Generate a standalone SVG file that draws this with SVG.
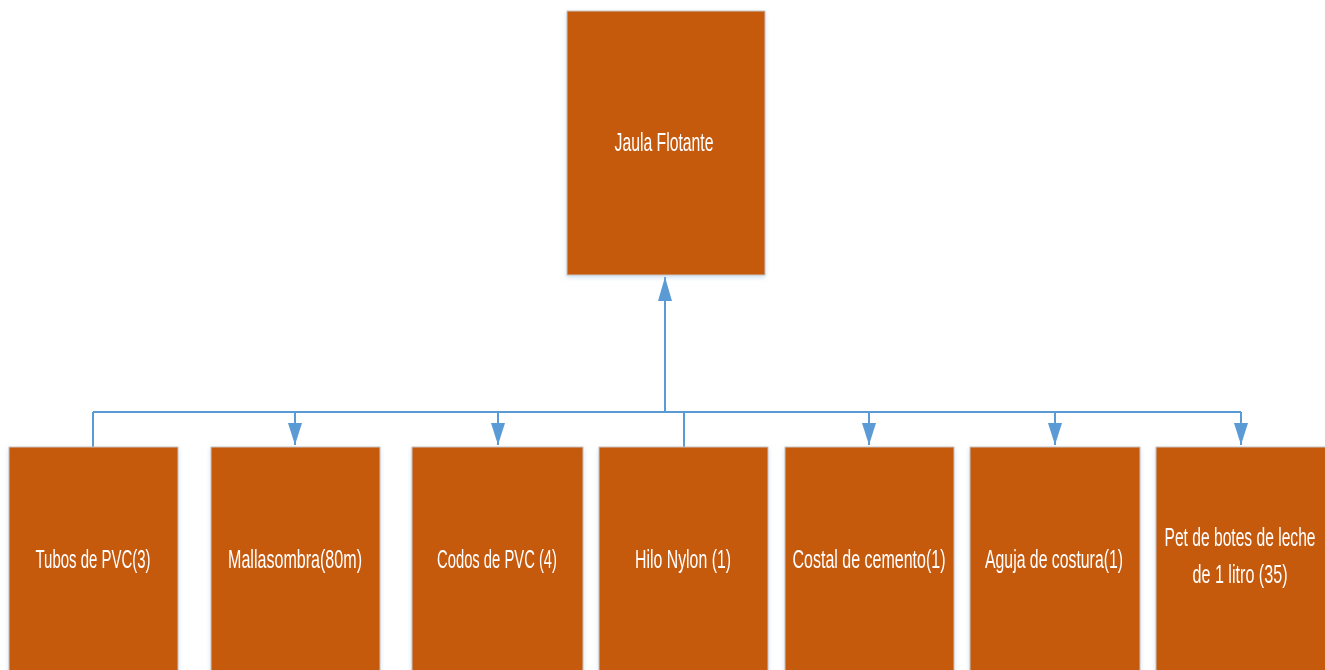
<svg xmlns="http://www.w3.org/2000/svg" width="1325" height="670" viewBox="0 0 1325 670">
<style>
.box{fill:#C55A11;stroke:#c9c3bf;stroke-width:1}
.lbl{font-family:"Liberation Sans",Arial,sans-serif;font-size:25px;fill:#ffffff;text-anchor:middle}
.con{fill:none;stroke:#5B9BD5;stroke-width:2}
</style>
<defs>
<marker id="ah" markerUnits="userSpaceOnUse" markerWidth="22" markerHeight="14" viewBox="0 0 22 14" refX="22" refY="7" orient="auto">
<path d="M0 0 L22 7 L0 14 Z" fill="#5B9BD5"/>
</marker>
<marker id="ahu" markerUnits="userSpaceOnUse" markerWidth="24" markerHeight="14" viewBox="0 0 24 14" refX="24" refY="7" orient="auto">
<path d="M0 0 L24 7 L0 14 Z" fill="#5B9BD5"/>
</marker>
<filter id="sh" x="-10%" y="-10%" width="120%" height="120%">
<feDropShadow dx="0" dy="2" stdDeviation="2" flood-color="#9dc3e6" flood-opacity="0.5"/>
</filter>
</defs>
<g id="connectors">
<path class="con" d="M93 412 H1241"/>
<path class="con" d="M665 412 V277" marker-end="url(#ahu)"/>
<path class="con" d="M93 412 V447"/>
<path class="con" d="M684 412 V447"/>
<path class="con" d="M295 412 V445" marker-end="url(#ah)"/>
<path class="con" d="M498 412 V445" marker-end="url(#ah)"/>
<path class="con" d="M869 412 V445" marker-end="url(#ah)"/>
<path class="con" d="M1055 412 V445" marker-end="url(#ah)"/>
<path class="con" d="M1241 412 V445" marker-end="url(#ah)"/>
</g>
<g id="jaula" filter="url(#sh)">
<rect class="box" x="567" y="11" width="198" height="264"/>
<text class="lbl" transform="translate(664 151) scale(0.62 1)" textLength="159.7" lengthAdjust="spacingAndGlyphs">Jaula Flotante</text>
</g>
<g id="tubos" filter="url(#sh)">
<rect class="box" x="9" y="447" width="169" height="240"/>
<text class="lbl" transform="translate(93 568) scale(0.62 1)" textLength="185.5" lengthAdjust="spacingAndGlyphs">Tubos de PVC(3)</text>
</g>
<g id="malla" filter="url(#sh)">
<rect class="box" x="211" y="447" width="169" height="240"/>
<text class="lbl" transform="translate(295 568) scale(0.62 1)" textLength="216.1" lengthAdjust="spacingAndGlyphs">Mallasombra(80m)</text>
</g>
<g id="codos" filter="url(#sh)">
<rect class="box" x="412" y="447" width="171" height="240"/>
<text class="lbl" transform="translate(497 568) scale(0.62 1)" textLength="193.5" lengthAdjust="spacingAndGlyphs">Codos de PVC (4)</text>
</g>
<g id="hilo" filter="url(#sh)">
<rect class="box" x="599" y="447" width="169" height="240"/>
<text class="lbl" transform="translate(683 568) scale(0.62 1)" textLength="154.8" lengthAdjust="spacingAndGlyphs">Hilo Nylon (1)</text>
</g>
<g id="costal" filter="url(#sh)">
<rect class="box" x="785" y="447" width="169" height="240"/>
<text class="lbl" transform="translate(869 568) scale(0.62 1)" textLength="246.8" lengthAdjust="spacingAndGlyphs">Costal de cemento(1)</text>
</g>
<g id="aguja" filter="url(#sh)">
<rect class="box" x="970" y="447" width="170" height="240"/>
<text class="lbl" transform="translate(1054 568) scale(0.62 1)" textLength="222.6" lengthAdjust="spacingAndGlyphs">Aguja de costura(1)</text>
</g>
<g id="pet" filter="url(#sh)">
<rect class="box" x="1156" y="447" width="175" height="240"/>
<text class="lbl" transform="translate(1240 546) scale(0.62 1)" textLength="243.5" lengthAdjust="spacingAndGlyphs">Pet de botes de leche</text>
<text class="lbl" transform="translate(1240 583) scale(0.62 1)" textLength="153.2" lengthAdjust="spacingAndGlyphs">de 1 litro (35)</text>
</g>
</svg>
